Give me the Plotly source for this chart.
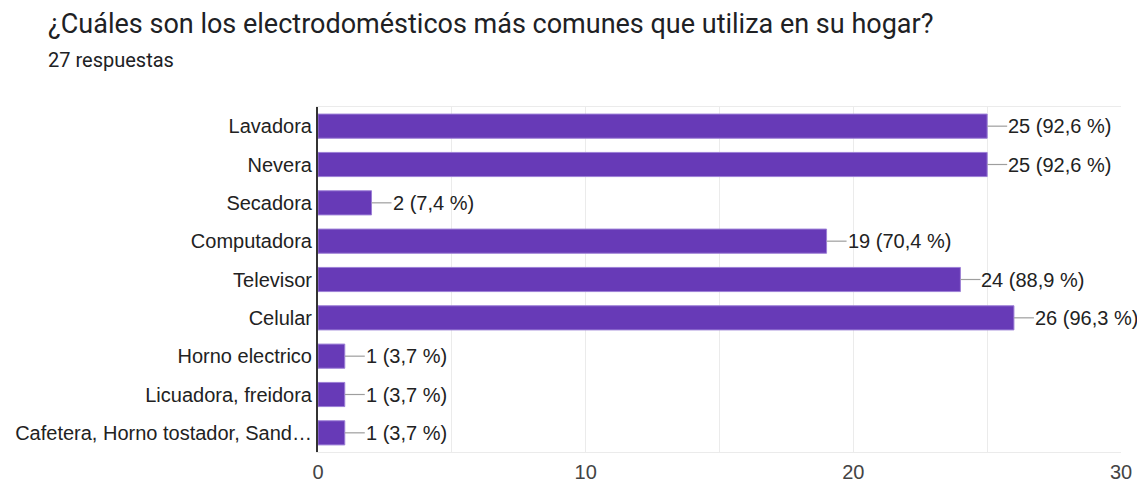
import plotly.graph_objects as go

categories = ["Lavadora", "Nevera", "Secadora", "Computadora", "Televisor", "Celular",
              "Horno electrico", "Licuadora, freidora", "Cafetera, Horno tostador, Sand…"]
counts = [25, 25, 2, 19, 24, 26, 1, 1, 1]
percents = ["92,6", "92,6", "7,4", "70,4", "88,9", "96,3", "3,7", "3,7", "3,7"]
x_ticks = [0, 10, 20, 30]

purple = "#673ab7"
W, H = 1145, 484
L, R, T, B = 310, 32, 99, 40
pw, ph = W - L - R, H - T - B

fig = go.Figure()
fig.add_trace(go.Bar(
    y=categories, x=counts, orientation="h",
    marker=dict(color=purple, line=dict(color="#9c7fd6", width=1)),
    hoverinfo="x+y",
))

for cat, c, p in zip(categories, counts, percents):
    fig.add_shape(type="line", xref="x", yref="y", xsizemode="pixel", xanchor=c,
                  x0=0, x1=20, y0=cat, y1=cat, line=dict(color="#9e9e9e", width=1.2))
    fig.add_annotation(x=c, y=cat, xref="x", yref="y", text=f"{c} ({p} %)",
                       showarrow=False, xanchor="left", xshift=19, yshift=0,
                       font=dict(family="Liberation Sans, Arial", size=20, color="#222222"))

fig.update_layout(
    width=W, height=H,
    margin=dict(l=L, r=R, t=T, b=B, autoexpand=False),
    plot_bgcolor="white", paper_bgcolor="white",
    bargap=0.37,
    showlegend=False,
    annotations=list(fig.layout.annotations) + [
        dict(text="¿Cuáles son los electrodomésticos más comunes que utiliza en su hogar?",
             xref="paper", yref="paper", x=-(L - 38) / pw, y=1 + (T - 16) / ph,
             xanchor="left", yanchor="middle", showarrow=False,
             font=dict(family="Roboto", size=27, color="#202124")),
        dict(text="27 respuestas",
             xref="paper", yref="paper", x=-(L - 38) / pw, y=1 + (T - 52) / ph,
             xanchor="left", yanchor="middle", showarrow=False,
             font=dict(family="Roboto", size=20, color="#202124")),
    ],
)

fig.update_xaxes(
    range=[0, 30], tickvals=x_ticks, ticktext=[str(v) for v in x_ticks],
    showgrid=True, gridcolor="#ebebeb", gridwidth=1,
    minor=dict(dtick=5, tick0=0, showgrid=True, gridcolor="#ebebeb", gridwidth=1),
    showline=True, linecolor="#ebebeb", mirror=True, zeroline=False,
    tickfont=dict(family="Liberation Sans, Arial", size=20, color="#444444"),
    ticks="", ticklabelstandoff=2, automargin=False,
)
fig.update_yaxes(
    autorange="reversed", showgrid=False,
    showline=True, linecolor="#333333", linewidth=2,
    tickfont=dict(family="Liberation Sans, Arial", size=20, color="#222222"),
    ticks="", ticklabelstandoff=0, automargin=False,
)

fig.write_html("out.html")
